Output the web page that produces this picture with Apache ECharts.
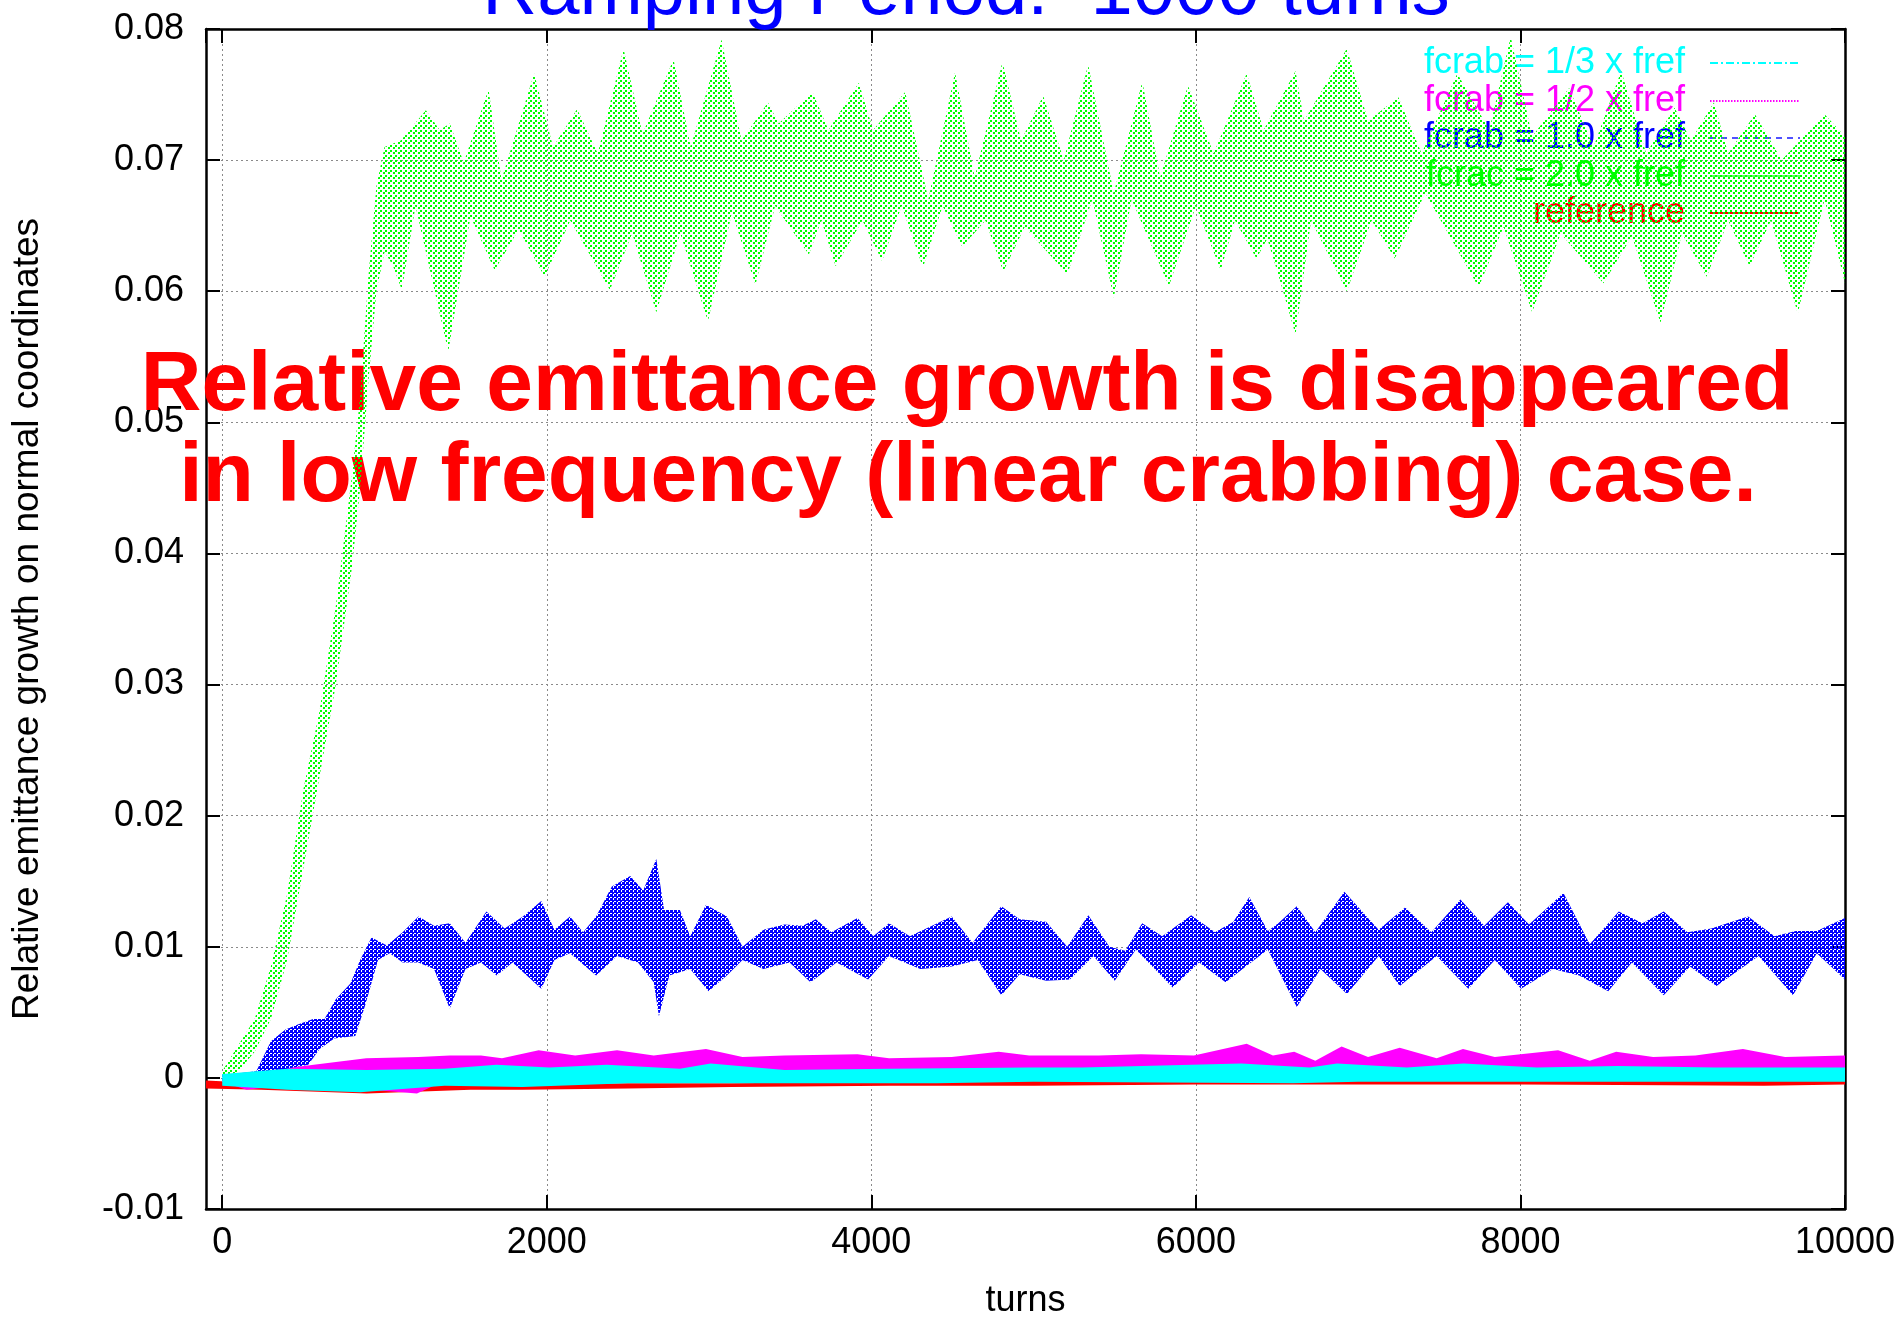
<!DOCTYPE html>
<html>
<head>
<meta charset="utf-8">
<script src="https://cdn.jsdelivr.net/npm/echarts@6/dist/echarts.min.js"></script>
<style>
html,body{margin:0;padding:0;background:#fff;}
#chart{width:1901px;height:1324px;}
</style>
</head>
<body>
<div id="chart"></div>
<script>
const FONT = '"Liberation Sans", Arial, Helvetica, sans-serif';

// ---- texts ----
const titleText = 'Ramping Period:  1000 turns';
const noteLine1 = 'Relative emittance growth is disappeared';
const noteLine2 = 'in low frequency (linear crabbing) case.';
const xName = 'turns';
const yName = 'Relative emittance growth on normal coordinates';
const legendNames = ['fcrab = 1/3 x fref', 'fcrab = 1/2 x fref', 'fcrab = 1.0 x fref', 'fcrac = 2.0 x fref', 'reference'];

// ---- axis ranges ----
const xMin = -100, xMax = 10000;
const yMin = -0.01, yMax = 0.08, yStep = 0.01;

// ---- data: upper / lower envelopes of each scatter band, [turn, value] ----
const greenHi = [[0,0.0005],[100,0.0025],[200,0.0045],[300,0.0085],[400,0.014],[500,0.022],[600,0.028],[700,0.036],[800,0.046],[850,0.052],[900,0.061],[950,0.068],[1000,0.071],[1100,0.0715],[1255,0.0738],[1340,0.0723],[1403,0.0728],[1488,0.0698],[1641,0.0754],[1721,0.0685],[1922,0.0766],[2039,0.071],[2187,0.0739],[2314,0.0705],[2473,0.0785],[2590,0.072],[2781,0.0777],[2887,0.071],[3077,0.0792],[3200,0.0715],[3363,0.0744],[3429,0.0728],[3637,0.0752],[3736,0.0723],[3923,0.0759],[4011,0.0723],[4209,0.0752],[4351,0.067],[4516,0.0767],[4637,0.0687],[4808,0.0775],[4923,0.0715],[5059,0.0749],[5186,0.07],[5336,0.0773],[5494,0.0675],[5670,0.076],[5780,0.0687],[5951,0.0757],[6109,0.0705],[6313,0.0766],[6417,0.0723],[6614,0.0768],[6666,0.073],[6930,0.0785],[7061,0.073],[7248,0.0748],[7391,0.0705],[7611,0.0766],[7808,0.0723],[7940,0.0794],[8072,0.0718],[8300,0.0755],[8450,0.071],[8621,0.0768],[8775,0.0705],[8950,0.074],[9050,0.0715],[9192,0.0744],[9280,0.0705],[9445,0.0735],[9610,0.070],[9874,0.0735],[10000,0.0718]];
const greenLo = [[0,-0.0005],[100,0.0005],[200,0.002],[300,0.0045],[400,0.009],[500,0.016],[600,0.023],[700,0.030],[800,0.039],[850,0.045],[900,0.053],[950,0.060],[1000,0.063],[1050,0.062],[1107,0.0601],[1191,0.0665],[1393,0.0554],[1530,0.0657],[1679,0.0616],[1827,0.0647],[1986,0.0611],[2145,0.0654],[2389,0.0601],[2526,0.0644],[2675,0.0584],[2823,0.0644],[2993,0.0577],[3141,0.066],[3286,0.0605],[3407,0.0665],[3615,0.0628],[3692,0.0654],[3780,0.0619],[3945,0.0654],[4066,0.0623],[4187,0.0665],[4318,0.0618],[4439,0.0665],[4560,0.0634],[4703,0.0654],[4813,0.0615],[4945,0.0649],[5208,0.0613],[5362,0.067],[5494,0.0595],[5604,0.067],[5834,0.0604],[6000,0.0665],[6153,0.0616],[6241,0.0654],[6373,0.0625],[6440,0.064],[6504,0.0614],[6614,0.0567],[6710,0.0654],[6930,0.06],[7083,0.0654],[7226,0.0625],[7413,0.0675],[7742,0.0603],[7896,0.0649],[8072,0.0584],[8248,0.0644],[8511,0.0606],[8687,0.0642],[8863,0.0576],[8995,0.0644],[9148,0.0611],[9280,0.0654],[9412,0.0619],[9544,0.0654],[9709,0.0583],[9874,0.067],[10000,0.0606]];

const blueHi = [[0,0.0002],[210,0.0005],[300,0.0028],[390,0.0037],[470,0.0041],[560,0.0045],[630,0.0045],[700,0.006],[790,0.0072],[850,0.009],[920,0.0107],[1015,0.0101],[1112,0.0111],[1209,0.0123],[1305,0.0116],[1402,0.0118],[1499,0.0103],[1628,0.0127],[1740,0.0114],[1853,0.0123],[1966,0.0135],[2047,0.0113],[2143,0.0123],[2224,0.0111],[2304,0.0123],[2401,0.0146],[2514,0.0154],[2594,0.0143],[2675,0.0167],[2723,0.0128],[2820,0.0128],[2884,0.0108],[2981,0.0132],[3110,0.0123],[3206,0.01],[3335,0.0113],[3464,0.0117],[3577,0.0116],[3658,0.0121],[3754,0.0111],[3915,0.0122],[4012,0.0108],[4109,0.0118],[4237,0.0108],[4495,0.0123],[4624,0.0103],[4801,0.0131],[4914,0.0121],[5077,0.0119],[5207,0.01],[5337,0.0124],[5467,0.01],[5565,0.0097],[5669,0.0118],[5792,0.0108],[5971,0.0124],[6118,0.0111],[6231,0.0119],[6329,0.0138],[6443,0.0112],[6508,0.0118],[6622,0.0131],[6736,0.0111],[6915,0.0142],[7126,0.0113],[7289,0.013],[7451,0.0111],[7630,0.0136],[7777,0.0116],[7923,0.0134],[8053,0.0117],[8265,0.0141],[8427,0.0102],[8606,0.0127],[8752,0.0118],[8883,0.0127],[9029,0.0111],[9176,0.0114],[9403,0.0123],[9566,0.0108],[9696,0.0112],[9826,0.0112],[10000,0.0122]];
const blueLo = [[0,-0.0002],[242,0.0002],[400,0.0007],[530,0.001],[600,0.0022],[690,0.003],[820,0.0032],[880,0.0055],[960,0.009],[1032,0.0095],[1112,0.0088],[1209,0.0088],[1305,0.0083],[1402,0.0053],[1499,0.0083],[1595,0.0088],[1692,0.0078],[1789,0.0088],[1966,0.0068],[2047,0.009],[2143,0.0095],[2304,0.0078],[2433,0.0093],[2562,0.0088],[2659,0.0073],[2691,0.0047],[2755,0.0078],[2884,0.0083],[2997,0.0066],[3110,0.0078],[3206,0.009],[3335,0.0083],[3496,0.0088],[3625,0.0073],[3786,0.0088],[3980,0.0075],[4109,0.0093],[4302,0.0083],[4495,0.0085],[4656,0.009],[4801,0.0063],[4914,0.0079],[5077,0.0074],[5223,0.0075],[5369,0.0093],[5500,0.0074],[5630,0.0098],[5857,0.0069],[6020,0.0088],[6183,0.0073],[6443,0.0098],[6622,0.0054],[6768,0.0083],[6931,0.0064],[7126,0.0093],[7256,0.007],[7484,0.0093],[7679,0.0068],[7842,0.009],[8004,0.0068],[8200,0.0083],[8362,0.0078],[8541,0.0066],[8687,0.0088],[8883,0.0063],[9045,0.0085],[9208,0.007],[9468,0.0093],[9680,0.0063],[9826,0.0095],[10000,0.0075]];

const magentaHi = [[0,0.0],[242,0.0005],[564,0.001],[887,0.0015],[1209,0.0016],[1402,0.0017],[1595,0.0017],[1724,0.0015],[1950,0.0021],[2175,0.0017],[2433,0.0021],[2659,0.0017],[2981,0.0022],[3206,0.0016],[3464,0.0017],[3915,0.0018],[4109,0.0015],[4495,0.0016],[4785,0.002],[4972,0.0017],[5109,0.0017],[5402,0.0017],[5662,0.0018],[5988,0.0017],[6313,0.0026],[6475,0.0017],[6606,0.002],[6736,0.0013],[6898,0.0024],[7061,0.0016],[7256,0.0023],[7484,0.0015],[7646,0.0022],[7842,0.0016],[8232,0.0021],[8427,0.0013],[8590,0.002],[8818,0.0016],[9078,0.0017],[9371,0.0022],[9631,0.0016],[10000,0.0017]];
const magentaLo = [[0,-0.0003],[150,-0.0009],[300,-0.0007],[420,-0.0004],[1200,-0.0012],[1320,-0.0005],[2000,0.0],[4000,0.0002],[7000,0.0003],[10000,0.0003]];

const cyanHi = [[0,0.0003],[400,0.0007],[890,0.0006],[1370,0.0007],[1690,0.001],[2015,0.0008],[2370,0.001],[2820,0.0007],[3010,0.0011],[3465,0.0006],[4110,0.0007],[4970,0.0008],[5300,0.0008],[6280,0.0011],[6700,0.0008],[6870,0.0011],[7300,0.0008],[7650,0.0011],[8100,0.0008],[8600,0.0009],[9200,0.0008],[10000,0.0008]];
const cyanLo = [[0,-0.0006],[400,-0.0009],[850,-0.0011],[1370,-0.0006],[1850,-0.0007],[2500,-0.0004],[3200,-0.0004],[3800,-0.0004],[4400,-0.0004],[5000,-0.0003],[6600,-0.0004],[7000,-0.0003],[10000,-0.0003]];

const redHi = [[-100,-0.0002],[240,-0.0004],[890,-0.0004],[1530,-0.0004],[1850,-0.0005],[2500,-0.0004],[3140,-0.0004],[4110,-0.0003],[5000,-0.0002],[6000,-0.0002],[8000,-0.0001],[10000,-0.0001]];
const redLo = [[-100,-0.0008],[240,-0.0009],[890,-0.0012],[1530,-0.0009],[1850,-0.0009],[2500,-0.0008],[3140,-0.0007],[4110,-0.0006],[5000,-0.0006],[6000,-0.0005],[8000,-0.0005],[9500,-0.0006],[10000,-0.0005]];

// ---- styling helpers ----
function dotPattern(color, tile, dots) {
  const c = document.createElement('canvas');
  c.width = tile; c.height = tile;
  const g = c.getContext('2d');
  g.fillStyle = color;
  dots.forEach(d => g.fillRect(d[0], d[1], d[2], d[2]));
  return { image: c, repeat: 'repeat' };
}
function lineIcon(W, H, lead, pattern) {
  let d = 'path://M0,0L0,0M' + W + ',' + H + 'L' + W + ',' + H;
  const y0 = H / 2 - 1, y1 = H / 2 + 1;
  let pos = lead, on = true, i = 0;
  while (pos < W) {
    const len = pattern[i % pattern.length];
    const end = Math.min(W, pos + len);
    if (on) d += 'M' + pos + ',' + y0 + 'L' + end + ',' + y0 + 'L' + end + ',' + y1 + 'L' + pos + ',' + y1 + 'Z';
    pos = end; on = !on; i++;
  }
  return d;
}

function band(name, hi, lo, color, fill) {
  return {
    type: 'custom',
    name: name,
    coordinateSystem: 'cartesian2d',
    xAxisIndex: 0, yAxisIndex: 0,
    silent: true,
    animation: false,
    clip: true,
    itemStyle: { color: color, borderColor: color, borderWidth: 0 },
    data: [hi[0]],
    renderItem: function (params, api) {
      const pts = hi.map(p => api.coord(p)).concat(lo.slice().reverse().map(p => api.coord(p)));
      return { type: 'polygon', shape: { points: pts }, style: { fill: fill, stroke: null } };
    }
  };
}

const colors = ['#00ffff', '#ff00ff', '#0000ff', '#00ff00', '#ff0000'];
const iconColors = ['#00ffff', '#ff00ff', '#5050ff', '#60ff60', '#ff0000'];
const dashes = [[8, 3, 2, 3], [1.5, 1.5], [6, 5], [200], [200]];
const rowCenters = [63, 101, 138, 176, 213];

const series = [
  band(legendNames[4], redHi, redLo, colors[4], '#ff0000'),
  band(legendNames[1], magentaHi, magentaLo, colors[1], '#ff00ff'),
  band(legendNames[2], blueHi, blueLo, colors[2], dotPattern('#0000ff', 4, [[0,0,2],[2,2,2],[2,0,1],[0,2,1],[3,0,1],[0,3,1]])),
  band(legendNames[3], greenHi, greenLo, colors[3], dotPattern('#00ff00', 5, [[0,0,2],[3,2,2]])),
  band(legendNames[0], cyanHi, cyanLo, colors[0], '#00ffff')
];

const legends = legendNames.map((n, i) => ({
  data: [{ name: n, icon: lineIcon(110, 4, 20, dashes[i]),
           itemStyle: { color: iconColors[i], borderColor: iconColors[i], borderWidth: 0, opacity: 1 } }],
  right: 101,
  top: rowCenters[i] - 18,
  orient: 'horizontal',
  align: 'right',
  itemWidth: 110,
  itemHeight: 4,
  padding: 0,
  selectedMode: false,
  z: 1,
  textStyle: { color: colors[i], fontSize: 36, fontFamily: FONT }
}));

const axisLine = { show: true, onZero: false, lineStyle: { color: '#000', width: 2.5 } };
const tick = { show: true, inside: true, length: 14, lineStyle: { color: '#000', width: 2 } };

const option = {
  backgroundColor: '#ffffff',
  animation: false,
  grid: { left: 206, right: 56, top: 29, bottom: 112, containLabel: false },
  legend: legends,
  xAxis: [
    {
      type: 'value', min: xMin, max: xMax, splitNumber: 5, position: 'bottom',
      name: xName, nameLocation: 'middle', nameGap: 74,
      nameTextStyle: { fontSize: 36, fontFamily: FONT, color: '#000' },
      axisLine: axisLine, axisTick: tick,
      axisLabel: { showMinLabel: false, margin: 16, fontSize: 36, fontFamily: FONT, color: '#000',
        formatter: v => String(Math.round(v)) },
      splitLine: { show: true, lineStyle: { color: '#8a8a8a', width: 1, type: [2, 3] } }
    },
    {
      type: 'value', min: xMin, max: xMax, splitNumber: 5, position: 'top',
      axisLine: axisLine, axisTick: tick, axisLabel: { show: false }, splitLine: { show: false }
    }
  ],
  yAxis: [
    {
      type: 'value', min: yMin, max: yMax, interval: yStep, position: 'left',
      name: yName, nameLocation: 'middle', nameGap: 160,
      nameTextStyle: { fontSize: 37, fontFamily: FONT, color: '#000' },
      axisLine: axisLine, axisTick: tick,
      axisLabel: { margin: 22, fontSize: 36, fontFamily: FONT, color: '#000',
        formatter: v => String(Math.round(v * 100) / 100) },
      splitLine: { show: true, lineStyle: { color: '#8a8a8a', width: 1, type: [2, 3] } }
    },
    {
      type: 'value', min: yMin, max: yMax, interval: yStep, position: 'right',
      axisLine: axisLine, axisTick: tick, axisLabel: { show: false }, splitLine: { show: false }
    }
  ],
  graphic: [
    { type: 'text', x: 966, y: -7, z: 100,
      style: { text: titleText, fill: '#0000ff', fontSize: 76, fontFamily: FONT, align: 'center', verticalAlign: 'middle' } },
    { type: 'text', x: 967, y: 387, z: 1,
      style: { text: noteLine1, fill: '#ff0000', fontSize: 84, fontWeight: 'bold', fontFamily: FONT, align: 'center', verticalAlign: 'middle' } },
    { type: 'text', x: 968, y: 478, z: 1,
      style: { text: noteLine2, fill: '#ff0000', fontSize: 84, fontWeight: 'bold', fontFamily: FONT, align: 'center', verticalAlign: 'middle' } }
  ],
  series: series
};

const chart = echarts.init(document.getElementById('chart'), null, { renderer: 'canvas' });
chart.setOption(option);
</script>
</body>
</html>
